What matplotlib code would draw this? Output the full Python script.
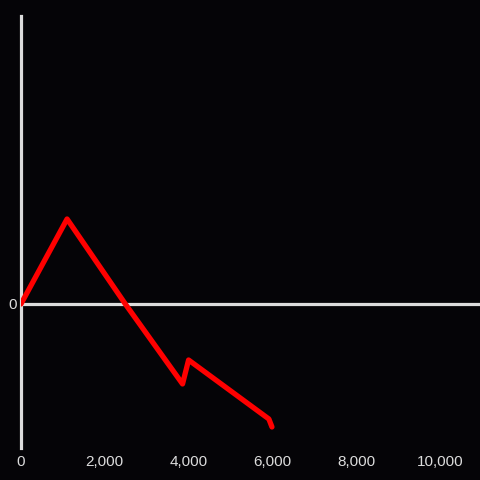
import matplotlib.pyplot as plt
from matplotlib.ticker import FuncFormatter

# datos
x_vals = [0, 1100, 2490, 3856, 4000, 5916, 5990]
y_vals = [0, 85, 0, -80, -56, -115, -123]
x_ticks = [0, 2000, 4000, 6000, 8000, 10000]

fondo = '#050407'
gris = '#dcdcdc'

plt.rcParams['font.family'] = ['Liberation Sans', 'DejaVu Sans']

fig = plt.figure(figsize=(4.8, 4.8), dpi=100, facecolor=fondo)
ax = fig.add_axes([0.0437, 0.0667, 0.9563, 0.9])
ax.set_facecolor(fondo)

ax.axhline(0, color=gris, lw=2.3, zorder=1)
ax.plot(x_vals, y_vals, color='#ff0000', lw=3.8, solid_joinstyle='round',
        solid_capstyle='round', zorder=3)

ax.set_xlim(0, 10955)
ax.set_ylim(-144, 288)

for s in ['top', 'right', 'bottom']:
    ax.spines[s].set_visible(False)
ax.spines['left'].set_color(gris)
ax.spines['left'].set_linewidth(2.3)

ax.set_xticks(x_ticks)
ax.xaxis.set_major_formatter(FuncFormatter(lambda v, p: f'{int(v):,}'))
ax.set_yticks([0])
ax.tick_params(axis='both', length=0, colors=gris, labelsize=11)
ax.tick_params(axis='x', pad=5)
ax.tick_params(axis='y', pad=3)

fig.savefig('out.png', dpi=100, facecolor=fondo)
